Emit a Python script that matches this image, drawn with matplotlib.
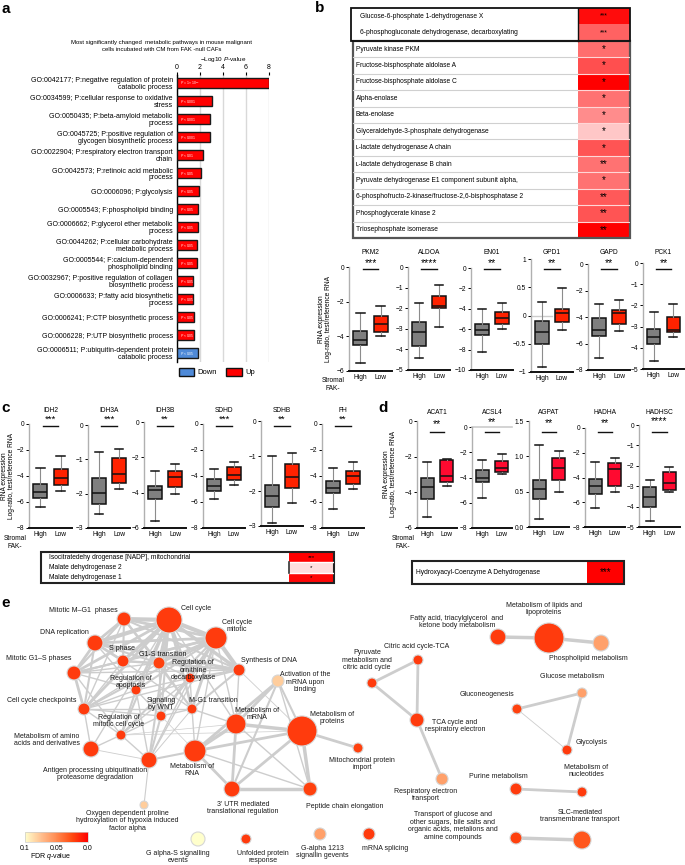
import numpy as np
import matplotlib
matplotlib.use('Agg')
import matplotlib.pyplot as plt
from matplotlib.colors import LinearSegmentedColormap, Normalize
from matplotlib.cm import ScalarMappable
from matplotlib.patches import Rectangle, Patch
from matplotlib.collections import LineCollection
from matplotlib import transforms

plt.rcParams['font.family'] = ['Liberation Sans', 'DejaVu Sans']
plt.rcParams['mathtext.fontset'] = 'custom'
plt.rcParams['mathtext.rm'] = 'Liberation Sans'
plt.rcParams['mathtext.it'] = 'Liberation Sans:italic'

# ---------------- data ----------------
# a: GO enrichment
go_terms = [
    'GO:0042177; P:negative regulation of protein\ncatabolic process',
    'GO:0034599; P:cellular response to oxidative\nstress',
    'GO:0050435; P:beta-amyloid metabolic\nprocess',
    'GO:0045725; P:positive regulation of\nglycogen biosynthetic process',
    'GO:0022904; P:respiratory electron transport\nchain',
    'GO:0042573; P:retinoic acid metabolic\nprocess',
    'GO:0006096; P:glycolysis',
    'GO:0005543; F:phospholipid binding',
    'GO:0006662; P:glycerol ether metabolic\nprocess',
    'GO:0044262; P:cellular carbohydrate\nmetabolic process',
    'GO:0005544; F:calcium-dependent\nphospholipid binding',
    'GO:0032967; P:positive regulation of collagen\nbiosynthetic process',
    'GO:0006633; P:fatty acid biosynthetic\nprocess',
    'GO:0006241; P:CTP biosynthetic process',
    'GO:0006228; P:UTP biosynthetic process',
    'GO:0006511; P:ubiquitin-dependent protein\ncatabolic process',
]
go_logp = [8.0, 3.0, 2.85, 2.85, 2.3, 2.1, 1.9, 1.8, 1.8, 1.7, 1.7, 1.4, 1.4, 1.5, 1.5, 1.85]
go_ptext = ['$P$ = 1 × 10$^{-8}$'] + ['$P$ < 0.001'] * 3 + ['$P$ < 0.01'] + ['$P$ < 0.05'] * 11
go_dir = ['Up'] * 15 + ['Down']

# b: enzyme heat table
b_enzymes = ['Glucose-6-phosphate 1-dehydrogenase X',
             '6-phosphogluconate dehydrogenase, decarboxylating',
             'Pyruvate kinase PKM', 'Fructose-bisphosphate aldolase A',
             'Fructose-bisphosphate aldolase C', 'Alpha-enolase', 'Beta-enolase',
             'Glyceraldehyde-3-phosphate dehydrogenase',
             'ʟ-lactate dehydrogenase A chain', 'ʟ-lactate dehydrogenase B chain',
             'Pyruvate dehydrogenase E1 component subunit alpha,',
             '6-phosphofructo-2-kinase/fructose-2,6-bisphosphatase 2',
             'Phosphoglycerate kinase 2', 'Triosephosphate isomerase']
b_heat = [0.95, 0.61, 0.57, 0.69, 1.0, 0.55, 0.45, 0.22, 0.67, 0.55, 0.55, 0.65, 0.67, 1.0]
b_sig = ['***', '***', '*', '*', '*', '*', '*', '*', '*', '**', '*', '**', '**', '**']

# box stats: [whislo, q1, med, q3, whishi]
b_genes = ['PKM2', 'ALDOA', 'EN01', 'GPD1', 'GAPD', 'PCK1']
b_stars = ['***', '****', '**', '**', '**', '**']
b_high = [[-5.55, -4.5, -4.2, -3.7, -2.65], [-4.4, -3.85, -3.15, -2.65, -1.75],
          [-8.2, -6.6, -6.1, -5.5, -4.05], [-0.92, -0.5, -0.3, -0.1, 0.24],
          [-7.1, -5.45, -4.95, -4.1, -3.0], [-4.6, -3.8, -3.5, -3.1, -2.3]]
b_low = [[-4.0, -3.75, -3.3, -2.8, -2.25], [-2.9, -2.0, -1.88, -1.4, -0.85],
         [-6.0, -5.5, -4.95, -4.35, -3.45], [-0.26, -0.11, 0.04, 0.12, 0.48],
         [-5.05, -4.5, -3.7, -3.45, -2.75], [-3.5, -3.25, -3.15, -2.55, -1.95]]

c_genes = ['IDH2', 'IDH3A', 'IDH3B', 'SDHD', 'SDHB', 'FH']
c_stars = ['***', '***', '**', '***', '**', '**']
c_high = [[-6.4, -5.7, -5.2, -4.6, -3.4], [-2.6, -2.3, -1.97, -1.53, -0.8],
          [-5.6, -4.35, -3.85, -3.65, -2.75], [-5.8, -5.15, -4.75, -4.2, -3.46],
          [-2.9, -2.45, -2.15, -1.83, -0.99], [-6.5, -5.3, -4.9, -4.4, -3.4]]
c_low = [[-5.15, -4.7, -4.15, -3.45, -2.45], [-1.85, -1.68, -1.44, -0.97, -0.7],
         [-4.05, -3.7, -3.1, -2.8, -2.37], [-4.7, -4.3, -3.9, -3.3, -2.9],
         [-2.35, -1.9, -1.6, -1.22, -0.9], [-5.0, -4.6, -4.0, -3.6, -2.9]]
c_enzymes = ['Isocitratedehy drogenase [NADP], mitochondrial',
             'Malate dehydrogenase 2', 'Malate dehydrogenase 1']
c_heat = [1.0, 0.13, 0.97]
c_sig = ['***', '*', '*']

d_genes = ['ACAT1', 'ACSL4', 'AGPAT', 'HADHA', 'HADHSC']
d_stars = ['**', '**', '**', '**', '****']
d_high = [[-5.4, -4.35, -3.7, -3.2, -2.3], [-5.6, -4.35, -4.05, -3.4, -2.65],
          [0.11, 0.4, 0.54, 0.66, 1.16], [-6.5, -5.35, -4.7, -4.1, -2.75],
          [-4.7, -4.0, -3.55, -3.05, -2.7]]
d_low = [[-3.65, -3.4, -3.1, -2.2, -2.15], [-3.7, -3.55, -3.25, -2.7, -2.1],
         [0.5, 0.66, 0.84, 0.98, 1.07], [-5.2, -4.7, -3.3, -2.85, -2.4],
         [-3.3, -3.2, -2.85, -2.3, -2.05]]
d_enzymes = ['Hydroxyacyl-Coenzyme A Dehydrogenase']
d_heat = [1.0]
d_sig = ['***']

# e: pathway network
node_names = [
    'Cell cycle', 'Cell cycle\nmitotic', 'Mitotic M\u2013G1  phases', 'DNA replication',
    'S phase', 'G1-S transition', 'Mitotic G1\u2013S phases',
    'Regulation of\nornithine\ndecarboxylase', 'Synthesis of DNA',
    'Regulation of\napoptosis', 'Cell cycle checkpoints', 'Signaling\nby WNT',
    'M-G1 transition', 'Regulation of\nmitotic cell cycle',
    'Metabolism of amino\nacids and derivatives',
    'Antigen processing ubiquitination\nproteasome degradation',
    'Metabolism of\nmRNA', 'Metabolism of\nRNA', 'Metabolism of\nproteins',
    "3' UTR mediated\ntranslational regulation", 'Peptide chain elongation',
    'Oxygen dependent proline\nhydroxylation of hypoxia induced\nfactor alpha',
    'Mitochondrial protein\nimport', 'Activation of the\nmRNA upon\nbinding',
    'G alpha-S signalling\nevents', 'Unfolded protein\nresponse',
    'G-alpha 1213\nsignallin gevents', 'mRNA splicing',
    'Fatty acid, triacylglycerol  and\nketone body metabolism',
    'Metabolism of lipids and\nlipoproteins', 'Phospholipid metabolism',
    'Citric acid cycle-TCA', 'Pyruvate\nmetabolism and\ncitric acid cycle',
    'TCA cycle and\nrespiratory electron', 'Respiratory electron\ntransport',
    'Glucose metabolism', 'Gluconeogenesis', 'Glycolysis', 'Purine metabolism',
    'Metabolism of\nnucleotides',
    'Transport of glucose and\nother sugars, bile salts and\norganic acids, metalions and\namine compounds',
    'SLC-mediated\ntransmembrane transport',
]
node_q = [0.02, 0.02, 0.02, 0.02, 0.02, 0.022, 0.02, 0.018, 0.02, 0.02, 0.02, 0.02,
          0.02, 0.02, 0.02, 0.02, 0.02, 0.02, 0.02, 0.02, 0.022, 0.08, 0.022, 0.08,
          0.1, 0.02, 0.06, 0.02, 0.02, 0.02, 0.06, 0.02, 0.02, 0.02, 0.06, 0.06,
          0.022, 0.02, 0.02, 0.02, 0.022, 0.03]
node_size = [13, 11, 7, 8, 6, 6, 7, 5, 6, 5, 6, 5, 5, 5, 8, 8, 10, 11, 15, 8, 7, 4, 5, 6,
             7, 5, 6, 6, 8, 15, 8, 5, 5, 7, 6, 5, 5, 5, 6, 5, 6, 9]
net_edges = [
    (0, 1, 3), (0, 2, 3), (0, 3, 3), (0, 4, 2.5), (0, 5, 2.5), (0, 6, 2), (0, 7, 2),
    (0, 8, 2.5), (0, 9, 2), (0, 10, 2), (0, 11, 1.5), (0, 12, 2), (0, 13, 1.5),
    (0, 15, 1.5), (0, 14, 1),
    (1, 2, 2), (1, 3, 2), (1, 4, 2), (1, 5, 2), (1, 6, 1.5), (1, 7, 2), (1, 8, 3),
    (1, 9, 1.5), (1, 10, 1.5), (1, 11, 1.5), (1, 12, 2), (1, 13, 1.5), (1, 15, 1),
    (2, 3, 2), (2, 4, 1.5), (2, 5, 1.5), (2, 6, 1.5), (2, 8, 1.5), (2, 10, 1), (2, 12, 1.5),
    (3, 4, 2), (3, 5, 1.5), (3, 6, 2), (3, 8, 2), (3, 10, 1.5), (3, 9, 1),
    (4, 5, 1.5), (4, 6, 1.5), (4, 8, 1.5), (4, 10, 1), (4, 12, 1),
    (5, 6, 1), (5, 7, 1), (5, 8, 1.5), (5, 10, 1), (5, 12, 1), (5, 11, 1),
    (6, 10, 2), (6, 9, 1), (6, 13, 1), (6, 8, 1),
    (7, 8, 1.5), (7, 9, 1), (7, 11, 1), (7, 12, 1), (7, 13, 1), (7, 15, 1),
    (8, 12, 1.5), (8, 10, 1), (8, 16, 1), (8, 18, 0.6),
    (9, 10, 1), (9, 11, 1), (9, 13, 1.5), (9, 15, 1),
    (10, 13, 1), (10, 14, 1), (10, 11, 1), (10, 12, 1),
    (11, 12, 1), (11, 13, 1), (11, 15, 1.5), (11, 17, 0.5),
    (12, 16, 1), (12, 17, 1), (12, 15, 0.7),
    (13, 15, 1), (13, 14, 1), (13, 16, 0.5), (13, 18, 0.5),
    (15, 17, 1.5), (15, 21, 0.8), (14, 15, 0.6),
    (16, 17, 2.5), (16, 18, 2.5), (17, 18, 2), (16, 19, 2), (17, 19, 2), (18, 19, 2),
    (18, 20, 2.5), (19, 20, 2.5), (17, 20, 1), (16, 20, 1),
    (23, 16, 2), (23, 17, 2), (23, 18, 1.5), (23, 19, 1.5), (23, 20, 1), (18, 22, 2),
    (0, 16, 1), (1, 16, 1), (1, 17, 1),
    (28, 29, 2.5), (29, 30, 2.5), (31, 32, 2), (31, 33, 2), (32, 33, 2), (33, 34, 2),
    (35, 36, 2), (35, 37, 2), (36, 37, 0.6), (38, 39, 2), (40, 41, 2.5),
]
fdr_ticks = [0.1, 0.05, 0.0]

# ---------------- layout (pixels) ----------------
W, H = 685, 865
node_xy = [(169, 620), (216, 638), (124, 619), (95, 643), (123, 661), (159, 663),
           (74, 673), (190, 678), (239, 670), (136, 690), (84, 709), (161, 716),
           (192, 709), (121, 735), (91, 749), (149, 760), (236, 724), (195, 751),
           (302, 731), (232, 789), (310, 789), (144, 805), (358, 748), (278, 681),
           (198, 839), (246, 839), (320, 834), (369, 834), (498, 637), (549, 638),
           (601, 643), (418, 660), (372, 683), (417, 720), (442, 779), (582, 693),
           (517, 709), (567, 750), (516, 789), (582, 792), (516, 838), (582, 840)]
label_xy = [(196, 608), (237, 626), (83, 610), (64, 633), (122, 648), (163, 654),
            (39, 659), (193, 670), (269, 660), (131, 682), (42, 701), (161, 704),
            (213, 701), (119, 721), (47, 740), (95, 774), (257, 714), (192, 770),
            (332, 718), (243, 808), (345, 806), (127, 821), (362, 764), (305, 682),
            (178, 857), (263, 857), (322, 852), (385, 848), (457, 622), (544, 609),
            (588, 659), (417, 647), (367, 660), (455, 726), (426, 795), (572, 676),
            (487, 694), (592, 742), (498, 777), (586, 771), (453, 826), (580, 816)]

fig = plt.figure(figsize=(W / 100, H / 100), dpi=100)


def px_axes(x0, y0, x1, y1):
    ax = fig.add_axes([x0 / W, 1 - y1 / H, (x1 - x0) / W, (y1 - y0) / H])
    ax.set_facecolor('none')
    return ax


# full-figure canvas in pixel coordinates (network + free text)
cv = fig.add_axes([0, 0, 1, 1])
cv.set_xlim(0, W)
cv.set_ylim(H, 0)
cv.axis('off')

heat_cmap = LinearSegmentedColormap.from_list('heat', ['#ffffff', '#ff0000'])
fdr_cmap = LinearSegmentedColormap.from_list(
    'fdr', ['#ff0000', '#ff4a10', '#ff8a50', '#ffc090', '#ffffcc'])

for lab, x, y in [('a', 6, 9), ('b', 320, 8), ('c', 6, 408), ('d', 383, 408), ('e', 6, 603)]:
    cv.text(x, y, lab, fontsize=11, fontweight='bold', ha='center', va='center')

# ---------------- a ----------------
cv.text(162, 46, 'Most significantly changed  metabolic pathways in mouse malignant\n'
        'cells incubated with CM from FAK -null CAFs', ha='center', va='center',
        fontsize=4.3, linespacing=1.35)
cv.text(223, 59, '\u2212Log10 $P$-value', ha='center', va='center', fontsize=4.6)

ax = px_axes(177, 75, 269, 362)
ypos = np.arange(len(go_terms))
bar_cols = ['#ff0000' if d == 'Up' else '#4f8ad8' for d in go_dir]
ax.barh(ypos, go_logp, height=0.58, color=bar_cols, edgecolor='#1a1a1a', linewidth=1.0, zorder=3)
for y, t in zip(ypos, go_ptext):
    ax.text(0.25, y, t, color='white', fontsize=2.4, va='center', zorder=4)
ax.set_xlim(0, 8)
ax.set_ylim(len(go_terms) - 0.5, -0.45)
ax.xaxis.tick_top()
ax.set_xticks([0, 2, 4, 6, 8])
ax.grid(axis='x', color='#d9d9d9', lw=1, zorder=0)
for s in ['top', 'right', 'bottom']:
    ax.spines[s].set_visible(False)
ax.spines['left'].set_linewidth(1)
ax.tick_params(axis='x', labelsize=5, length=2, pad=1)
ax.set_yticks(ypos)
ax.set_yticklabels(go_terms, fontsize=5, linespacing=1.05)
ax.tick_params(axis='y', length=0, pad=3)

fig.legend(handles=[Patch(facecolor='#4f8ad8', edgecolor='#111', label='Down'),
                    Patch(facecolor='#ff0000', edgecolor='#111', label='Up')],
           loc='center', bbox_to_anchor=(217 / W, 1 - 372 / H), ncol=2, frameon=False,
           fontsize=5.5, handlelength=2.0, handleheight=1.3, columnspacing=1.2,
           handletextpad=0.5)


# ---------------- heat tables ----------------
def heat_table(x0, y0, x1, y1, colx, names, vals, sigs, tx, fs, ss):
    t = px_axes(x0, y0, x1, y1)
    n = len(names)
    c0 = (colx - x0) / (x1 - x0)
    t.imshow(np.array(vals)[:, None], cmap=heat_cmap, vmin=0, vmax=1, aspect='auto',
             extent=(c0, 1, n, 0), interpolation='nearest')
    t.set_xlim(0, 1)
    t.set_ylim(n, 0)
    t.axis('off')
    txs = np.broadcast_to(np.asarray(tx, dtype=float), (n,))
    for i, (name, s) in enumerate(zip(names, sigs)):
        t.text((txs[i] - x0) / (x1 - x0), i + 0.5, name, va='center', ha='left', fontsize=fs)
        sz = ss[i] if isinstance(ss, list) else ss
        t.text((c0 + 1) / 2, i + 0.5, s, ha='center', va='center', fontsize=sz)
    return t, c0, n


tb, c0, n = heat_table(351, 8, 630, 238, 578, b_enzymes, b_heat, b_sig,
                       [360, 360] + [356] * 12, 4.8, [5, 5] + [7] * 12)
for i in range(3, n):
    tb.plot([0.007, c0], [i, i], color='#d0d0d0', lw=0.8)
    tb.plot([c0, 1], [i, i], color='#ffd6d6', lw=0.8)
tb.add_patch(Rectangle((0.007, 2), 0.993, n - 2, fill=False, ec='#555555', lw=1.6, clip_on=False))
tb.add_patch(Rectangle((0, 0), 1, 2, fill=False, ec='#111111', lw=1.3, clip_on=False))
tb.plot([c0, c0], [0, 2], color='#111111', lw=1)

tc, c0, n = heat_table(41, 552, 334, 583, 289, c_enzymes, c_heat, c_sig, 49, 4.8, 4.5)
for i in range(1, n):
    tc.plot([c0, 1], [i, i], color='white', lw=1)
tc.plot([c0, c0], [1, 2], color='#333333', lw=1.2)
tc.add_patch(Rectangle((0, 0), 1, n, fill=False, ec='#222222', lw=1.5, clip_on=False))

td, c0, n = heat_table(412, 561, 624, 584, 587, d_enzymes, d_heat, d_sig, 416, 4.8, 7)
td.add_patch(Rectangle((0, 0), 1, n, fill=False, ec='#222222', lw=1.5, clip_on=False))


# ---------------- box plots ----------------
def box_panel(xr, yr, name, stars, high, low, ylim, step, fmt, red, ty, sy, by, ssz=7.5):
    bx = px_axes(xr[0], yr[0], xr[1], yr[1])
    stats = [dict(whislo=s[0], q1=s[1], med=s[2], q3=s[3], whishi=s[4]) for s in (high, low)]
    parts = bx.bxp(stats, positions=[1, 2], widths=0.68, patch_artist=True, showfliers=False,
                   capwidths=0.42,
                   boxprops=dict(edgecolor='#111111', linewidth=1.1),
                   medianprops=dict(color='#111111', linewidth=1.1),
                   whiskerprops=dict(color='#8c8c8c', linewidth=0.8),
                   capprops=dict(color='#111111', linewidth=1.1))
    for p, c in zip(parts['boxes'], ['#7f7f7f', red]):
        p.set_facecolor(c)
    bx.set_xlim(0.45, 2.55)
    bx.set_ylim(*ylim)
    ticks = np.arange(ylim[1], ylim[0] - 1e-9, -step)
    bx.set_yticks(ticks)
    bx.set_yticklabels([format(round(v, 3) + 0.0, fmt).replace('-', '\u2212') for v in ticks])
    bx.set_xticks([1, 2])
    bx.set_xticklabels(['High', 'Low'])
    bx.spines['top'].set_visible(False)
    bx.spines['right'].set_visible(False)
    bx.spines['left'].set_color('#b0b0b0')
    bx.spines['left'].set_linewidth(1)
    bx.spines['bottom'].set_color('#111111')
    bx.spines['bottom'].set_linewidth(1.4)
    bx.tick_params(axis='y', labelsize=4.8, length=2, width=0.7, pad=1.5)
    bx.tick_params(axis='x', labelsize=4.8, length=0, pad=2.5)
    if ylim[0] < 0 < ylim[1]:
        bx.axhline(0, xmax=0.5, color='#cccccc', lw=1, zorder=0)
    tr = transforms.blended_transform_factory(bx.transData, fig.transFigure)
    bx.plot([1.12, 1.88], [1 - by / H] * 2, color='#111111', lw=1.0, transform=tr, clip_on=False)
    bx.text(1.5, 1 - sy / H, stars, transform=tr, ha='center', va='center', fontsize=ssz)
    bx.text(1.5, 1 - ty / H, name, transform=tr, ha='center', va='center', fontsize=4.8)
    return bx


b_xr = [(349, 392), (408, 450), (471, 513), (531, 573), (588, 630), (643, 684)]
b_yr = [(267, 371), (267, 370), (268, 370), (259, 372), (264, 370), (263, 369)]
b_lim = [(-6, 0), (-5, 0), (-10, 0), (-1, 1), (-8, 0), (-5, 0)]
b_step = [2, 1, 2, 0.5, 2, 1]
for i in range(6):
    box_panel(b_xr[i], b_yr[i], b_genes[i], b_stars[i], b_high[i], b_low[i],
              b_lim[i], b_step[i], 'g', '#ff2200', 253, 263, 269)

c_xr = [(29, 72), (88, 130), (144, 186), (203, 245), (261, 303), (322, 364)]
c_yr = [(424, 528), (425, 528), (422, 528), (424, 528), (421, 526), (424, 528)]
c_lim = [(-8, 0), (-3, 0), (-6, 0), (-8, 0), (-3, 0), (-8, 0)]
c_step = [2, 1, 2, 2, 1, 2]
for i in range(6):
    box_panel(c_xr[i], c_yr[i], c_genes[i], c_stars[i], c_high[i], c_low[i],
              c_lim[i], c_step[i], 'g', '#ff2200', 410, 419, 426, ssz=6.8)

d_xr = [(417, 457), (472, 512), (529, 569), (585, 625), (639, 680)]
d_yr = [(421, 528), (427, 528), (421, 527), (428, 527), (425, 527)]
d_lim = [(-6, 0), (-8, 0), (0, 1.5), (-8, 0), (-5, 0)]
d_step = [2, 2, 0.5, 2, 1]
d_fmt = ['g', 'g', '.1f', 'g', 'g']
d_sy = [424, 422, 423, 423, 421]
for i in range(5):
    bx = box_panel(d_xr[i], d_yr[i], d_genes[i], d_stars[i], d_high[i], d_low[i],
                   d_lim[i], d_step[i], d_fmt[i], '#ff0a30', 412, d_sy[i], 432)
    if d_genes[i] == 'ACSL4':
        bx.axhline(0, color='#cccccc', lw=1.2, clip_on=False)

ylab = 'RNA expression\nLog-ratio, test/reference RNA'
for x, y in [(325, 319), (8, 476), (390, 474)]:
    cv.text(x, y, ylab, rotation=90, ha='center', va='center', fontsize=4.8, linespacing=1.1)
for x, y in [(333, 385), (15, 543), (403, 543)]:
    cv.text(x, y, 'Stromal\nFAK-', ha='center', va='center', fontsize=4.8, linespacing=1.2)

# ---------------- e: network ----------------
segs = [[node_xy[i], node_xy[j]] for i, j, w in net_edges]
cv.add_collection(LineCollection(segs, linewidths=[w for _, _, w in net_edges],
                                 colors='#cdcdcd', zorder=1))
xs, ys = zip(*node_xy)
cv.scatter(xs, ys, s=[(1.44 * r) ** 2 for r in node_size], c=node_q, cmap=fdr_cmap,
           vmin=0, vmax=0.1, edgecolors='#d6d6d6', linewidths=0.8, zorder=2)
for (lx, ly), name in zip(label_xy, node_names):
    cv.text(lx, ly, name, ha='center', va='center', fontsize=5, linespacing=1.15,
            color='#1a1a1a', zorder=3)

cax = px_axes(25, 832, 88, 842)
cb = fig.colorbar(ScalarMappable(norm=Normalize(0, 0.1), cmap=fdr_cmap.reversed()),
                  cax=cax, orientation='horizontal')
cb.set_ticks([0.1 - v for v in fdr_ticks])
cb.set_ticklabels([format(v, 'g') if v else '0.0' for v in fdr_ticks])
cax.tick_params(labelsize=5, length=0, pad=2)
cb.outline.set_linewidth(0.5)
cb.outline.set_edgecolor('#cccccc')
cv.text(50, 857, 'FDR $q$-value', ha='center', va='center', fontsize=5)

fig.savefig('out.png', dpi=100)
